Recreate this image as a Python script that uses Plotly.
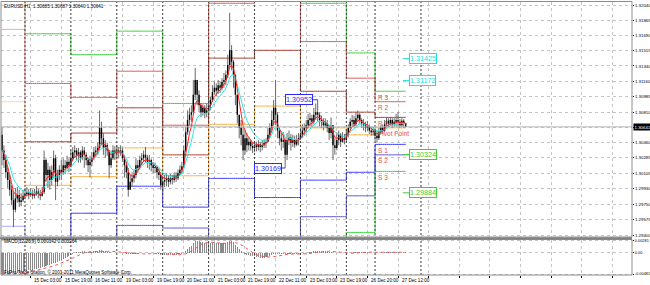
import plotly.graph_objects as go
import pandas as pd

# ---------------- data ----------------
title_text = "EURUSD,H1  1.30685 1.30687 1.30640 1.30641"
macd_title = "MACD(12,26,9) 0.000142 0.000264"
copyright_text = "FxPro Trade Station, © 2001-2011 MetaQuotes Software Corp."

first_open = 1.3055
close = [
    1.3037, 1.3026, 1.3012, 1.3003, 1.2992, 1.2980, 1.2969, 1.2982, 1.2986, 1.2978,
    1.2980, 1.2985, 1.2987, 1.2989, 1.2986, 1.2988, 1.2985, 1.2987, 1.2990, 1.2987,
    1.2985, 1.2989, 1.3026, 1.3009, 1.3015, 1.3003, 1.3012, 1.3028, 1.3001, 1.3008,
    1.3015, 1.3012, 1.3020, 1.3017, 1.3024, 1.3020, 1.3028, 1.3035, 1.3037, 1.3032,
    1.3035, 1.3029, 1.3037, 1.3032, 1.3026, 1.3020, 1.3024, 1.3028, 1.3035, 1.3037,
    1.3040, 1.3063, 1.3051, 1.3040, 1.3043, 1.3037, 1.3020, 1.3028, 1.3037, 1.3034,
    1.3037, 1.3035, 1.3037, 1.3028, 1.3020, 1.3012, 1.2992, 1.3001, 1.3005, 1.3009,
    1.3020, 1.3017, 1.3026, 1.3028, 1.3032, 1.3029, 1.3024, 1.3026, 1.3020, 1.3017,
    1.3018, 1.3012, 1.3009, 1.2997, 1.3001, 1.3003, 1.3005, 1.3001, 1.3005, 1.3003,
    1.3008, 1.3005, 1.3011, 1.3015, 1.3019, 1.3037, 1.3058, 1.3072, 1.3078, 1.3081,
    1.3101, 1.3118, 1.3101, 1.3089, 1.3081, 1.3086, 1.3080, 1.3083, 1.3089, 1.3095,
    1.3104, 1.3109, 1.3106, 1.3112, 1.3109, 1.3116, 1.3118, 1.3124, 1.3135, 1.3152,
    1.3139, 1.3124, 1.3101, 1.3078, 1.3063, 1.3055, 1.3037, 1.3051, 1.3043, 1.3047,
    1.3042, 1.3040, 1.3043, 1.3041, 1.3044, 1.3041, 1.3043, 1.3046, 1.3047, 1.3055,
    1.3063, 1.3072, 1.3086, 1.3078, 1.3060, 1.3051, 1.3047, 1.3049, 1.3032, 1.3049,
    1.3052, 1.3046, 1.3049, 1.3044, 1.3049, 1.3051, 1.3055, 1.3060, 1.3063, 1.3066,
    1.3072, 1.3074, 1.3070, 1.3078, 1.3081, 1.3078, 1.3072, 1.3070, 1.3066, 1.3068,
    1.3063, 1.3057, 1.3066, 1.3043, 1.3040, 1.3049, 1.3055, 1.3047, 1.3051, 1.3049,
    1.3056, 1.3063, 1.3070, 1.3072, 1.3067, 1.3074, 1.3078, 1.3072, 1.3068, 1.3066,
    1.3063, 1.3065, 1.3060, 1.3058, 1.3059, 1.3054, 1.3051, 1.3058, 1.3063, 1.3060,
    1.3067, 1.3071, 1.3068, 1.3072, 1.3067, 1.3070, 1.3072, 1.3070, 1.3066, 1.3071,
    1.30685, 1.30641,
]
high = [
    1.3063, 1.3043, 1.3032, 1.3017, 1.3009, 1.2997, 1.2989, 1.2994, 1.2995, 1.2992,
    1.2988, 1.2992, 1.2994, 1.2995, 1.2993, 1.2994, 1.2992, 1.2993, 1.2996, 1.2993,
    1.2992, 1.2995, 1.3037, 1.3028, 1.3023, 1.3019, 1.3020, 1.3037, 1.3032, 1.3015,
    1.3020, 1.3026, 1.3028, 1.3026, 1.3031, 1.3028, 1.3037, 1.3041, 1.3043, 1.3040,
    1.3040, 1.3037, 1.3042, 1.3041, 1.3035, 1.3029, 1.3031, 1.3035, 1.3041, 1.3042,
    1.3046, 1.3083, 1.3070, 1.3057, 1.3049, 1.3046, 1.3037, 1.3037, 1.3043, 1.3042,
    1.3043, 1.3041, 1.3043, 1.3040, 1.3032, 1.3024, 1.3017, 1.3009, 1.3012, 1.3015,
    1.3028, 1.3026, 1.3031, 1.3034, 1.3037, 1.3041, 1.3032, 1.3032, 1.3028, 1.3024,
    1.3023, 1.3020, 1.3017, 1.3012, 1.3008, 1.3009, 1.3011, 1.3009, 1.3010, 1.3009,
    1.3012, 1.3012, 1.3015, 1.3020, 1.3024, 1.3043, 1.3064, 1.3083, 1.3086, 1.3089,
    1.3118, 1.3132, 1.3118, 1.3106, 1.3091, 1.3090, 1.3089, 1.3091, 1.3095, 1.3099,
    1.3112, 1.3116, 1.3114, 1.3118, 1.3116, 1.3120, 1.3126, 1.3129, 1.3147, 1.3195,
    1.3158, 1.3141, 1.3124, 1.3101, 1.3078, 1.3072, 1.3063, 1.3060, 1.3057, 1.3052,
    1.3049, 1.3046, 1.3048, 1.3047, 1.3049, 1.3047, 1.3049, 1.3050, 1.3051, 1.3063,
    1.3068, 1.3083, 1.3095, 1.3118, 1.3081, 1.3063, 1.3057, 1.3058, 1.3051, 1.3057,
    1.3060, 1.3056, 1.3055, 1.3054, 1.3055, 1.3057, 1.3063, 1.3067, 1.3068, 1.3072,
    1.3079, 1.3080, 1.3078, 1.3086, 1.3091, 1.30952, 1.3081, 1.3077, 1.3074, 1.3074,
    1.3072, 1.3066, 1.3075, 1.3066, 1.3051, 1.3058, 1.3060, 1.3057, 1.3058, 1.3056,
    1.3060, 1.3067, 1.3074, 1.3078, 1.3077, 1.3081, 1.3083, 1.3080, 1.3074, 1.3073,
    1.3070, 1.3071, 1.3067, 1.3064, 1.3064, 1.3062, 1.3060, 1.3063, 1.3066, 1.3067,
    1.3072, 1.3075, 1.3074, 1.3075, 1.3074, 1.3074, 1.3079, 1.3081, 1.3073, 1.3074,
    1.3073, 1.30687,
]
low = [
    1.3020, 1.3017, 1.3005, 1.2994, 1.2985, 1.2974, 1.2949, 1.2966, 1.2977, 1.2972,
    1.2973, 1.2978, 1.2981, 1.2984, 1.2981, 1.2984, 1.2981, 1.2982, 1.2985, 1.2982,
    1.2980, 1.2984, 1.2987, 1.3001, 1.2994, 1.2992, 1.2997, 1.3005, 1.2980, 1.2996,
    1.3003, 1.3003, 1.3009, 1.3010, 1.3015, 1.3012, 1.3018, 1.3026, 1.3029, 1.3026,
    1.3023, 1.3023, 1.3026, 1.3017, 1.3020, 1.3012, 1.3006, 1.3019, 1.3026, 1.3029,
    1.3032, 1.3037, 1.3043, 1.3032, 1.3029, 1.3031, 1.3005, 1.3017, 1.3026, 1.3026,
    1.3028, 1.3028, 1.3031, 1.3024, 1.3006, 1.3005, 1.2984, 1.2992, 1.2996, 1.3000,
    1.3005, 1.3011, 1.3015, 1.3020, 1.3024, 1.3023, 1.3017, 1.3015, 1.3013, 1.3011,
    1.3011, 1.3005, 1.3003, 1.2992, 1.2989, 1.2995, 1.2996, 1.2995, 1.2998, 1.2998,
    1.3000, 1.3001, 1.3003, 1.3009, 1.3011, 1.3017, 1.3035, 1.3055, 1.3066, 1.3070,
    1.3080, 1.3095, 1.3089, 1.3081, 1.3075, 1.3077, 1.3074, 1.3075, 1.3080, 1.3083,
    1.3093, 1.3101, 1.3099, 1.3102, 1.3103, 1.3106, 1.3109, 1.3112, 1.3120, 1.3132,
    1.3129, 1.3109, 1.3089, 1.3068, 1.3051, 1.3043, 1.3026, 1.3032, 1.3035, 1.3037,
    1.3037, 1.3034, 1.3035, 1.3036, 1.3037, 1.3035, 1.3037, 1.3040, 1.3040, 1.3046,
    1.3051, 1.3060, 1.3066, 1.3066, 1.3051, 1.3043, 1.3037, 1.3040, 1.30169, 1.3026,
    1.3043, 1.3037, 1.3041, 1.3040, 1.3042, 1.3043, 1.3049, 1.3051, 1.3054, 1.3057,
    1.3063, 1.3065, 1.3064, 1.3067, 1.3072, 1.3070, 1.3065, 1.3063, 1.3060, 1.3063,
    1.3058, 1.3049, 1.3051, 1.3026, 1.3032, 1.3037, 1.3043, 1.3041, 1.3046, 1.3044,
    1.3047, 1.3052, 1.3060, 1.3065, 1.3063, 1.3065, 1.3070, 1.3067, 1.3063, 1.3060,
    1.3058, 1.3059, 1.3056, 1.3054, 1.3054, 1.3048, 1.3046, 1.3049, 1.3055, 1.3056,
    1.3058, 1.3064, 1.3064, 1.3065, 1.3063, 1.3064, 1.3065, 1.3064, 1.3063, 1.3064,
    1.3063, 1.30640,
]
macd = [
    -0.0048, -0.0048, -0.0047, -0.0047, -0.0047, -0.0046, -0.0046, -0.0045, -0.0045, -0.0045,
    -0.0044, -0.0043, -0.0042, -0.0041, -0.0040, -0.0039, -0.0038, -0.0037, -0.0036, -0.0035,
    -0.0034, -0.0033, -0.0031, -0.0030, -0.0028, -0.0027, -0.0025, -0.0023, -0.0022, -0.0020,
    -0.0018, -0.0016, -0.0014, -0.0012, -0.0010, -0.0008, -0.0005, -0.0002, 0.0001, 0.0002,
    0.0003, 0.0003, 0.0004, 0.0004, 0.0003, 0.0003, 0.0003, 0.0003, 0.0004, 0.0004,
    0.0005, 0.0006, 0.0006, 0.0005, 0.0004, 0.0003, 0.0002, 0.0001, 0.0001, 0.0001,
    0.0000, 0.0000, 0.0000, -0.0001, -0.0001, -0.0002, -0.0003, -0.0003, -0.0003, -0.0003,
    -0.0002, -0.0002, -0.0001, -0.0001, 0.0000, 0.0000, 0.0000, -0.0001, -0.0001, -0.0001,
    -0.0002, -0.0002, -0.0003, -0.0004, -0.0004, -0.0004, -0.0004, -0.0004, -0.0004, -0.0004,
    -0.0004, -0.0004, -0.0003, -0.0003, -0.0002, 0.0001, 0.0005, 0.0010, 0.0014, 0.0017,
    0.0022, 0.0027, 0.0028, 0.0027, 0.0025, 0.0024, 0.0023, 0.0022, 0.0022, 0.0022,
    0.0022, 0.0022, 0.0022, 0.0022, 0.0022, 0.0022, 0.0023, 0.0023, 0.0025, 0.0027,
    0.0027, 0.0024, 0.0019, 0.0013, 0.0008, 0.0004, 0.0000, -0.0002, -0.0004, -0.0005,
    -0.0006, -0.0007, -0.0008, -0.0009, -0.0010, -0.0011, -0.0011, -0.0011, -0.0010, -0.0009,
    -0.0007, -0.0005, -0.0003, -0.0002, -0.0002, -0.0002, -0.0002, -0.0002, -0.0003, -0.0003,
    -0.0003, -0.0003, -0.0003, -0.0003, -0.0002, -0.0002, -0.0002, -0.0001, -0.0001, 0.0000,
    0.0001, 0.0002, 0.0003, 0.0004, 0.0004, 0.0005, 0.0005, 0.0005, 0.0004, 0.0004,
    0.0003, 0.0002, 0.0002, 0.0000, -0.0001, -0.0001, -0.0001, -0.0001, -0.0001, -0.0001,
    0.0000, 0.0000, 0.0001, 0.0001, 0.0002, 0.0002, 0.0003, 0.0003, 0.0002, 0.0002,
    0.0002, 0.0002, 0.0001, 0.0001, 0.0001, 0.0001, 0.0001, 0.0001, 0.0001, 0.0001,
    0.0002, 0.0002, 0.0002, 0.0002, 0.0002, 0.0002, 0.0002, 0.0002, 0.0002, 0.0001,
    0.00014, 0.000142,
]

# daily pivot levels (one value per trading day), day start = bar index
day_start = [0, 12, 36, 60, 84, 108, 132, 156, 180, 195]
next_day_start = 219
r3 = [1.3402, 1.3171, 1.3147, 1.3174, 1.3091, 1.3281, 1.3317, 1.3206, 1.3149, 1.3105]
r2 = [1.3319, 1.3114, 1.3098, 1.3128, 1.3066, 1.3206, 1.3256, 1.3162, 1.3120, 1.3093]
r1 = [1.3176, 1.3047, 1.3057, 1.3086, 1.3032, 1.3143, 1.3152, 1.3105, 1.3081, 1.3075]
pp = [1.3093, 1.2997, 1.3007, 1.3040, 1.3008, 1.3067, 1.3088, 1.3063, 1.3055, 1.3063]
s1 = [1.2950, 1.2930, 1.2965, 1.2996, 1.2972, 1.3005, 1.2983, 1.3003, 1.3012, 1.3044]
s2 = [1.2867, 1.2880, 1.2916, 1.2951, 1.2948, 1.2929, 1.2918, 1.2961, 1.2985, 1.3032]
s3 = [1.2724, 1.2813, 1.2873, 1.2906, 1.2916, 1.2867, 1.2810, 1.2905, 1.2943, 1.3013]
pivot_names = ["R 3", "R 2", "R 1", "Pivot Point", "S 1", "S 2", "S 3"]

time_tick_bars = [-1, 15, 31, 47, 63, 79, 95, 111, 127, 143, 159, 175, 191, 207]
time_tick_labels = ["14 Dec 2011", "15 Dec 03:00", "15 Dec 19:00", "16 Dec 11:00",
                    "19 Dec 03:00", "19 Dec 19:00", "20 Dec 11:00", "21 Dec 03:00",
                    "21 Dec 19:00", "22 Dec 11:00", "23 Dec 03:00", "23 Dec 19:00",
                    "26 Dec 20:00", "27 Dec 12:00"]
price_ticks = ["1.32040", "1.31865", "1.31690", "1.31515", "1.31340", "1.31160",
               "1.30985", "1.30810", "1.30635", "1.30460", "1.30285", "1.30105",
               "1.29930", "1.29750", "1.29575", "1.29400"]
macd_ticks = ["-0.00481", "0.00", "0.00281"]

level_vals = [1.31425, 1.31172, 1.30324, 1.29884]
level_cols = ["#22dede", "#22dede", "#3ccc3c", "#3ccc3c"]
extreme_bars = [165, 148]
extreme_vals = [1.30952, 1.30169]

n = len(close)
assert len(high) == n and len(low) == n and len(macd) == n

# ---------------- derived ----------------
opens = [first_open] + close[:-1]
bars = list(range(n))
ma_fast = pd.Series(close).ewm(span=5, adjust=False).mean().tolist()
ma_slow = pd.Series(close).ewm(span=10, adjust=False).mean().tolist()
signal = pd.Series(macd).rolling(9, min_periods=1).mean().tolist()

def day_of(i):
    k = 0
    for j, s in enumerate(day_start):
        if i >= s:
            k = j
    return k

day_idx = [day_of(i) for i in bars]

W, H = 650, 285
def px(p):
    return p / W
def py(p):
    return 1 - p / H

main_top, main_bot = 1.5, 237.0
macd_top, macd_bot = 239.5, 275.0
left_px, right_px = 1.0, 632.0
FONT = "Liberation Sans, Arial, sans-serif"

fig = go.Figure()

# pivot lines (first day drawn faded, as in the terminal)
piv_sets = [(r3, "#3dd23d", "#9ee89e"), (r2, "#e05a5a", "#f0b0b0"),
            (r1, "#a8402e", "#e6a8a8"), (pp, "#ffb040", "#ffd8a0"),
            (s1, "#3a3aff", "#a8a8f4"), (s2, "#5a5ad8", "#b0b0ec"),
            (s3, "#3dd23d", "#9ee89e")]
first_end = day_start[1]
for lv, col, faded in piv_sets:
    ys = [lv[d] for d in day_idx]
    fig.add_trace(go.Scatter(x=bars[:first_end + 1], y=ys[:first_end + 1], mode="lines",
                             line=dict(color=faded, width=1, shape="hv"),
                             hoverinfo="skip", xaxis="x", yaxis="y"))
    fig.add_trace(go.Scatter(x=bars[first_end:], y=ys[first_end:], mode="lines",
                             line=dict(color=col, width=1, shape="hv"),
                             hoverinfo="skip", xaxis="x", yaxis="y"))

# candles: wicks and bodies
wx, wy, bx, by = [], [], [], []
for i in bars:
    o, c = opens[i], close[i]
    hi = max(high[i], o, c)
    lo = min(low[i], o, c)
    wx += [i, i, None]
    wy += [lo, hi, None]
    bx += [i, i, None]
    by += [o, c, None]
fig.add_trace(go.Scatter(x=wx, y=wy, mode="lines", line=dict(color="#6a6a6a", width=1),
                         hoverinfo="skip", xaxis="x", yaxis="y"))
fig.add_trace(go.Scatter(x=bx, y=by, mode="lines", line=dict(color="#000000", width=1.4),
                         hoverinfo="skip", xaxis="x", yaxis="y"))

# moving averages
fig.add_trace(go.Scatter(x=bars, y=ma_slow, mode="lines", line=dict(color="#2ee6e6", width=1),
                         hoverinfo="skip", xaxis="x", yaxis="y"))
fig.add_trace(go.Scatter(x=bars, y=ma_fast, mode="lines", line=dict(color="#ff2020", width=1),
                         hoverinfo="skip", xaxis="x", yaxis="y"))

# MACD pane
fig.add_trace(go.Bar(x=bars, y=macd, width=0.55, marker=dict(color="#8a8a8a", line=dict(width=0)),
                     hoverinfo="skip", xaxis="x", yaxis="y2"))
fig.add_trace(go.Scatter(x=bars, y=signal, mode="lines",
                         line=dict(color="#ff5050", width=1, dash="dot"),
                         hoverinfo="skip", xaxis="x", yaxis="y2"))

# axes
x_lo = -0.523
x_hi = 329.3
p_per_px = 0.0264 / 230.0
y_hi = 1.3204 + (5 - main_top) * p_per_px
y_lo = 1.3204 - (main_bot - 5) * p_per_px
m_per_px = (0.00281 + 0.00481) / (274.0 - 240.7)
m_hi = 0.00281 + (240.7 - macd_top) * m_per_px
m_lo = -0.00481 - (macd_bot - 274.0) * m_per_px

grid_ticks = time_tick_bars + list(range(223, 330, 16))
axis_font = dict(family=FONT, size=4.4, color="#000000")
axis_font2 = dict(family=FONT, size=3.9, color="#000000")

fig.update_layout(
    width=W, height=H, margin=dict(l=0, r=0, t=0, b=0),
    paper_bgcolor="#ffffff", plot_bgcolor="#ffffff",
    showlegend=False, bargap=0,
    xaxis=dict(domain=[px(left_px), px(right_px)], range=[x_lo, x_hi], anchor="y2",
               tickvals=grid_ticks, showticklabels=False, ticks="outside", ticklen=2,
               tickcolor="#000000", showgrid=True, gridcolor="#c4c4c4", griddash="dot",
               gridwidth=1, zeroline=False, showline=False, fixedrange=True),
    yaxis=dict(domain=[py(main_bot), py(main_top)], range=[y_lo, y_hi], side="right",
               anchor="x", tickvals=[float(t) for t in price_ticks], ticktext=price_ticks,
               ticks="outside", ticklen=1, tickcolor="#000000", tickfont=axis_font,
               ticklabelstandoff=0,
               showgrid=True, gridcolor="#c4c4c4", griddash="dot", gridwidth=1,
               zeroline=False, showline=False, automargin=False, fixedrange=True),
    yaxis2=dict(domain=[py(macd_bot), py(macd_top)], range=[m_lo, m_hi], side="right",
                anchor="x", tickvals=[float(t) for t in macd_ticks], ticktext=macd_ticks,
                ticks="outside", ticklen=1, tickcolor="#000000", tickfont=axis_font2,
                ticklabelstandoff=0,
                showgrid=True, gridcolor="#c4c4c4", griddash="dot", gridwidth=1,
                zeroline=False, showline=False, automargin=False, fixedrange=True),
)

shapes = []
for s in day_start[1:] + [next_day_start]:
    shapes.append(dict(type="line", xref="x", yref="paper", x0=s, x1=s,
                       y0=py(macd_bot), y1=py(main_top),
                       line=dict(color="#3a3a3a", width=1, dash="2px,2px")))
shapes.append(dict(type="line", xref="paper", yref="y", x0=px(left_px), x1=px(right_px),
                   y0=close[-1], y1=close[-1], line=dict(color="#b4b4b4", width=1)))
shapes.append(dict(type="rect", xref="paper", yref="paper", x0=px(left_px), x1=px(right_px),
                   y0=py(main_bot), y1=py(main_top), line=dict(color="#8c8c8c", width=1)))
shapes.append(dict(type="rect", xref="paper", yref="paper", x0=px(left_px), x1=px(right_px),
                   y0=py(macd_bot), y1=py(macd_top), line=dict(color="#8c8c8c", width=1)))
shapes.append(dict(type="line", xref="paper", yref="paper", x0=px(0), x1=px(right_px),
                   y0=py(238.2), y1=py(238.2), line=dict(color="#808080", width=2)))
fig.update_layout(shapes=shapes)

ann = []
tiny = dict(family=FONT, size=4.6, color="#000000")
ann.append(dict(text=title_text, xref="paper", yref="paper", x=px(2), y=py(7),
                xanchor="left", yanchor="middle", showarrow=False, font=tiny))
ann.append(dict(text=macd_title, xref="paper", yref="paper", x=px(2), y=py(241.5),
                xanchor="left", yanchor="middle", showarrow=False, font=tiny))
ann.append(dict(text=copyright_text, xref="paper", yref="paper", x=px(2), y=py(271.5),
                xanchor="left", yanchor="middle", showarrow=False, font=tiny))
for b, t in zip(time_tick_bars, time_tick_labels):
    ann.append(dict(text=t, xref="x", yref="paper", x=b, y=py(280), xshift=1.5,
                    xanchor="left", yanchor="middle", showarrow=False, font=tiny))

last = len(day_start) - 1
for name, (lv, col, faded) in zip(pivot_names, piv_sets):
    ann.append(dict(text=name, xref="x", yref="y", x=day_start[last], y=lv[last],
                    xshift=1, yshift=-0.5, xanchor="left", yanchor="top", showarrow=False,
                    font=dict(family=FONT, size=6.5, color="#e84a4a")))

for v, col in zip(level_vals, level_cols):
    ann.append(dict(text=f"{v:.5f}", xref="x", yref="y", x=209.5, y=v,
                    showarrow=True, ax=20, ay=0, arrowhead=0, arrowwidth=1, arrowcolor=col,
                    standoff=0, bordercolor=col, borderwidth=1, borderpad=0, bgcolor="#ffffff",
                    font=dict(family=FONT, size=7.2, color=col)))

for b, v, dx in zip(extreme_bars, extreme_vals, [-19, -17]):
    ann.append(dict(text=f"{v:.5f}", xref="x", yref="y", x=b, y=v,
                    showarrow=True, ax=dx, ay=0, arrowhead=0, arrowwidth=1,
                    arrowcolor="#2a2aff", standoff=0, bordercolor="#2a2aff", borderwidth=1,
                    borderpad=0, bgcolor="#ffffff",
                    font=dict(family=FONT, size=7.2, color="#2a2aff")))

ann.append(dict(text=f"{close[-1]:.5f}", xref="paper", yref="y", x=px(right_px + 0.5),
                y=close[-1], xanchor="left", yanchor="middle", showarrow=False,
                bgcolor="#000000", borderpad=0.5,
                font=dict(family=FONT, size=4.4, color="#ffffff")))
fig.update_layout(annotations=ann)

fig.write_html("out.html", config={"displayModeBar": False, "staticPlot": True})
